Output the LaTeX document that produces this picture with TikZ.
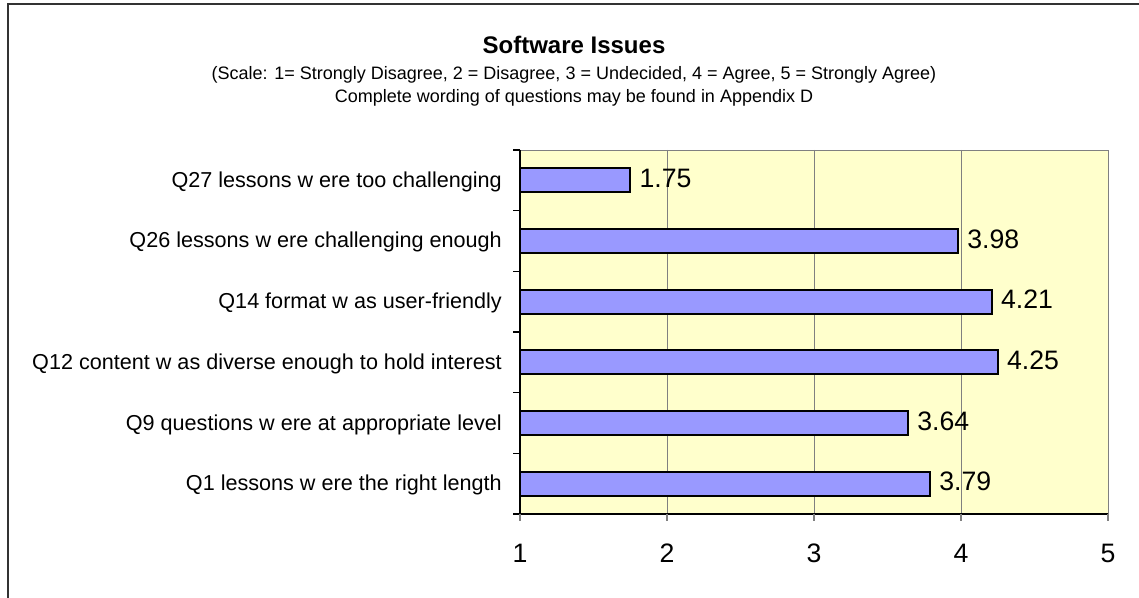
\documentclass[tikz,border=0pt]{standalone}
\usepackage{fontspec}
\setmainfont{Liberation Sans}
\definecolor{barblue}{RGB}{153, 153, 255}
\definecolor{plotyellow}{RGB}{255, 255, 204}
\definecolor{gridgray}{RGB}{128, 128, 128}
\definecolor{framegray}{RGB}{50, 50, 50}
\usepackage{tikz}
\usetikzlibrary{positioning}

\tikzset{
  titletext/.style={font=\fontsize{18}{20}\selectfont\bfseries, inner sep=0pt},
  subtext/.style={font=\fontsize{13.5}{15}\selectfont, inner sep=0pt},
  catlabel/.style={font=\fontsize{16.2}{18}\selectfont, anchor=base east, inner sep=0pt},
  vallabel/.style={font=\fontsize{20}{22}\selectfont, anchor=west, inner sep=0pt},
  ticklabel/.style={font=\fontsize{20}{22}\selectfont, inner sep=0pt},
  barbox/.style={draw=black, line width=1.4pt, fill=barblue},
  gridline/.style={draw=gridgray, line width=0.7pt}
}

\begin{document}
\begin{tikzpicture}[x=0.75pt, y=-0.75pt]
  \useasboundingbox (0,0) rectangle (1139,598);

  % chart frame (only left and top edges show)
  \draw[framegray, line width=1.5pt] (1139,4) -- (8,4) -- (8,598);

  % headings
  \node[titletext] (title) at (574,45) {Software Issues};
  \node[subtext] (scale) at (574,75) {(Scale: 1= Strongly Disagree, 2 = Disagree, 3 = Undecided, 4 = Agree, 5 = Strongly Agree)};
  \node[subtext] (wording) at (574,98) {Complete wording of questions may be found in Appendix D};

  % plot area and grid
  \filldraw[fill=plotyellow, draw=gridgray, line width=0.7pt] (520,150) rectangle (1108,514);
  \foreach \g in {2,3,4}
    \draw[gridline] ({520+(\g-1)*147},150) -- ({520+(\g-1)*147},514);
  \draw[black, line width=0.8pt] (520,150) -- (520,514) -- (1108,514);

  % ticks and axis numbers
  \foreach \k in {0,...,6}
    \draw[black, line width=0.8pt] (513,{150+\k*60.667}) -- (520,{150+\k*60.667});
  \foreach \g in {1,...,5} {
    \draw[gridgray, line width=0.8pt] ({520+(\g-1)*147},514) -- ({520+(\g-1)*147},521);
    \node[ticklabel] (tick\g) at ({520+(\g-1)*147},553) {\g};
  }

  % bars
  \foreach \val/\lab [count=\i] in {
      1.75/Q27 lessons w ere too challenging,
      3.98/Q26 lessons w ere challenging enough,
      4.21/Q14 format w as user-friendly,
      4.25/Q12 content w as diverse enough to hold interest,
      3.64/Q9 questions w ere at appropriate level,
      3.79/Q1 lessons w ere the right length} {
    \pgfmathsetmacro{\yc}{150+(\i-0.5)*60.667}
    \pgfmathsetmacro{\xe}{520+(\val-1)*147}
    \draw[barbox] (520,\yc-12) rectangle (\xe,\yc+12);
    \node[vallabel] (val\i) at (\xe+9,\yc-2) {\val};
    \node[catlabel] (cat\i) at (502,\yc+7) {\lab};
  }
\end{tikzpicture}
\end{document}
